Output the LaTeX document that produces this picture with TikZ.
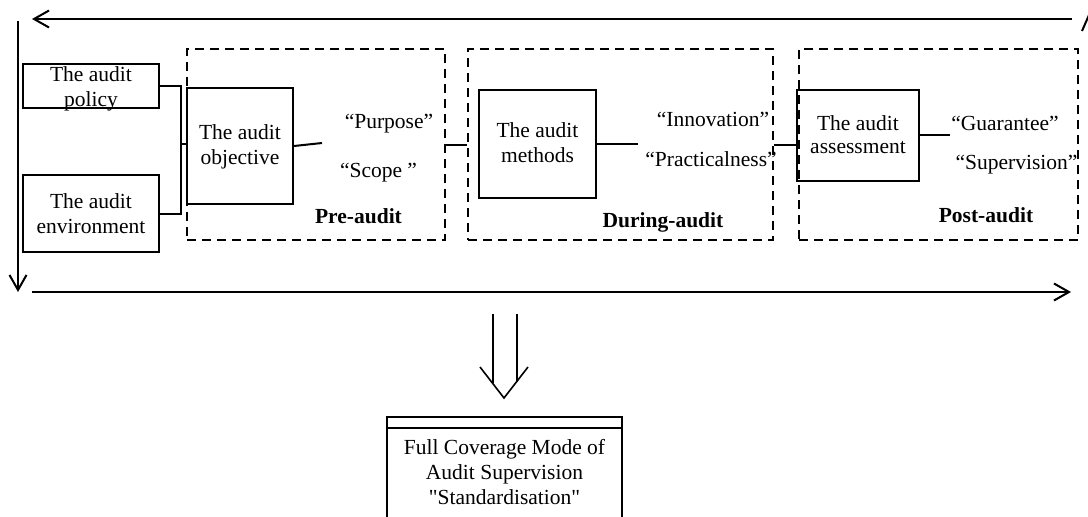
\documentclass[tikz,border=0pt]{standalone}
\usepackage{fontspec}
\setmainfont{Liberation Serif}[Ligatures=TeXOff]
\usetikzlibrary{arrows.meta,calc}
\begin{document}
\begin{tikzpicture}[x=1pt,y=-1pt,
  every node/.style={font=\fontsize{21.5}{25}\selectfont},
  solidbox/.style={draw,line width=2pt,inner sep=0pt},
  dashbox/.style={draw,line width=2pt,dash pattern=on 9pt off 6pt,inner sep=0pt},
  txt/.style={align=center,inner sep=0pt},
  lbl/.style={inner sep=0pt},
  boldlbl/.style={font=\fontsize{21.5}{25}\selectfont\bfseries,inner sep=0pt},
  conn/.style={line width=2pt},
  bigarrow/.style={line width=2pt,-{Straight Barb[length=15pt,width=17pt,line width=2pt]}},
  thinline/.style={line width=1.6pt}
]
\clip (0,0) rectangle (1088,517);

% dashed stage frames
\node[dashbox,minimum width=258pt,minimum height=191pt] (pre) at (316,144.5) {};
\node[dashbox,minimum width=305pt,minimum height=191pt] (dur) at (620.5,144.5) {};
\node[dashbox,minimum width=279pt,minimum height=191pt] (post) at (938.5,144.5) {};

% solid boxes
\node[solidbox,minimum width=136pt,minimum height=44pt] (pol) at (91,86) {};
\node[solidbox,minimum width=136pt,minimum height=77pt] (env) at (91,213.5) {};
\node[solidbox,minimum width=106pt,minimum height=116pt] (obj) at (240,146) {};
\node[solidbox,minimum width=117pt,minimum height=108pt] (met) at (537.5,144) {};
\node[solidbox,minimum width=122pt,minimum height=91pt] (ass) at (858,135.5) {};
\node[solidbox,minimum width=235pt,minimum height=140pt,anchor=north] (fin) at (504.5,416) {};

% box texts
\node[txt] (polt) at (91,89) {The audit\\policy};
\node[txt] (envt) at (91,214) {The audit\\environment};
\node[txt] (objt) at (240,147) {The audit\\objective};
\node[txt] (mett) at (537.5,143) {The audit\\methods};
\node[txt,font=\fontsize{21.5}{23}\selectfont] (asst) at (858,135) {The audit\\assessment};
\node[txt] (fint) at (504.5,472) {Full Coverage Mode of\\Audit Supervision\\"Standardisation"};

% labels
\node[lbl] (purp) at (389,124) {“Purpose”};
\node[lbl] (scop) at (378.5,172.5) {“Scope ”};
\node[boldlbl] (prel) at (358.5,216.5) {Pre-audit};
\node[lbl] (inno) at (713,119) {“Innovation”};
\node[lbl] (prac) at (711,159.5) {“Practicalness”};
\node[boldlbl] (durl) at (663,222.5) {During-audit};
\node[lbl] (guar) at (1005,123.5) {“Guarantee”};
\node[lbl] (supv) at (1016.5,164.5) {“Supervision”};
\node[boldlbl] (postl) at (986,215.5) {Post-audit};

% coordinates for free ends
\coordinate (brk) at (181,144);
\coordinate (objend) at (322,143);
\coordinate (metend) at (638,144);
\coordinate (assend) at (950,135);
\coordinate (topR) at (1072,19);
\coordinate (topL) at (32,19);
\coordinate (leftT) at (18,21);
\coordinate (leftB) at (18,292);
\coordinate (botL) at (32,292);
\coordinate (botR) at (1071,292);
\coordinate (slashA) at (1082,31);
\coordinate (slashB) at (1089,15);
\coordinate (dl1) at (493,314);
\coordinate (dl2) at (517,314);
\coordinate (vL) at (480,367);
\coordinate (vT) at (504,398);
\coordinate (vR) at (528,367);

% connectors
\draw[conn] (pol.east) -| (brk) |- (env.east);
\draw[conn] (brk) -- (obj.west |- brk);
\draw[conn] (obj.east) -- (objend);
\draw[conn] (pre.east) -- (dur.west);
\draw[conn] (met.east) -- (metend);
\draw[conn] (dur.east) -- (dur.east -| ass.west);
\draw[conn] (ass.east |- assend) -- (assend);

% fin inner line
\draw[conn] ($(fin.north west)+(0,12)$) -- ($(fin.north east)+(0,12)$);

% big arrows
\draw[bigarrow] (topR) -- (topL);
\draw[bigarrow] (leftT) -- (leftB);
\draw[bigarrow] (botL) -- (botR);
\draw[conn] (slashA) -- (slashB);

% double arrow
\draw[thinline] (dl1) -- (dl1 |- 0,383);
\draw[thinline] (dl2) -- (dl2 |- 0,382);
\draw[thinline] (vL) -- (vT) -- (vR);
\end{tikzpicture}
\end{document}
